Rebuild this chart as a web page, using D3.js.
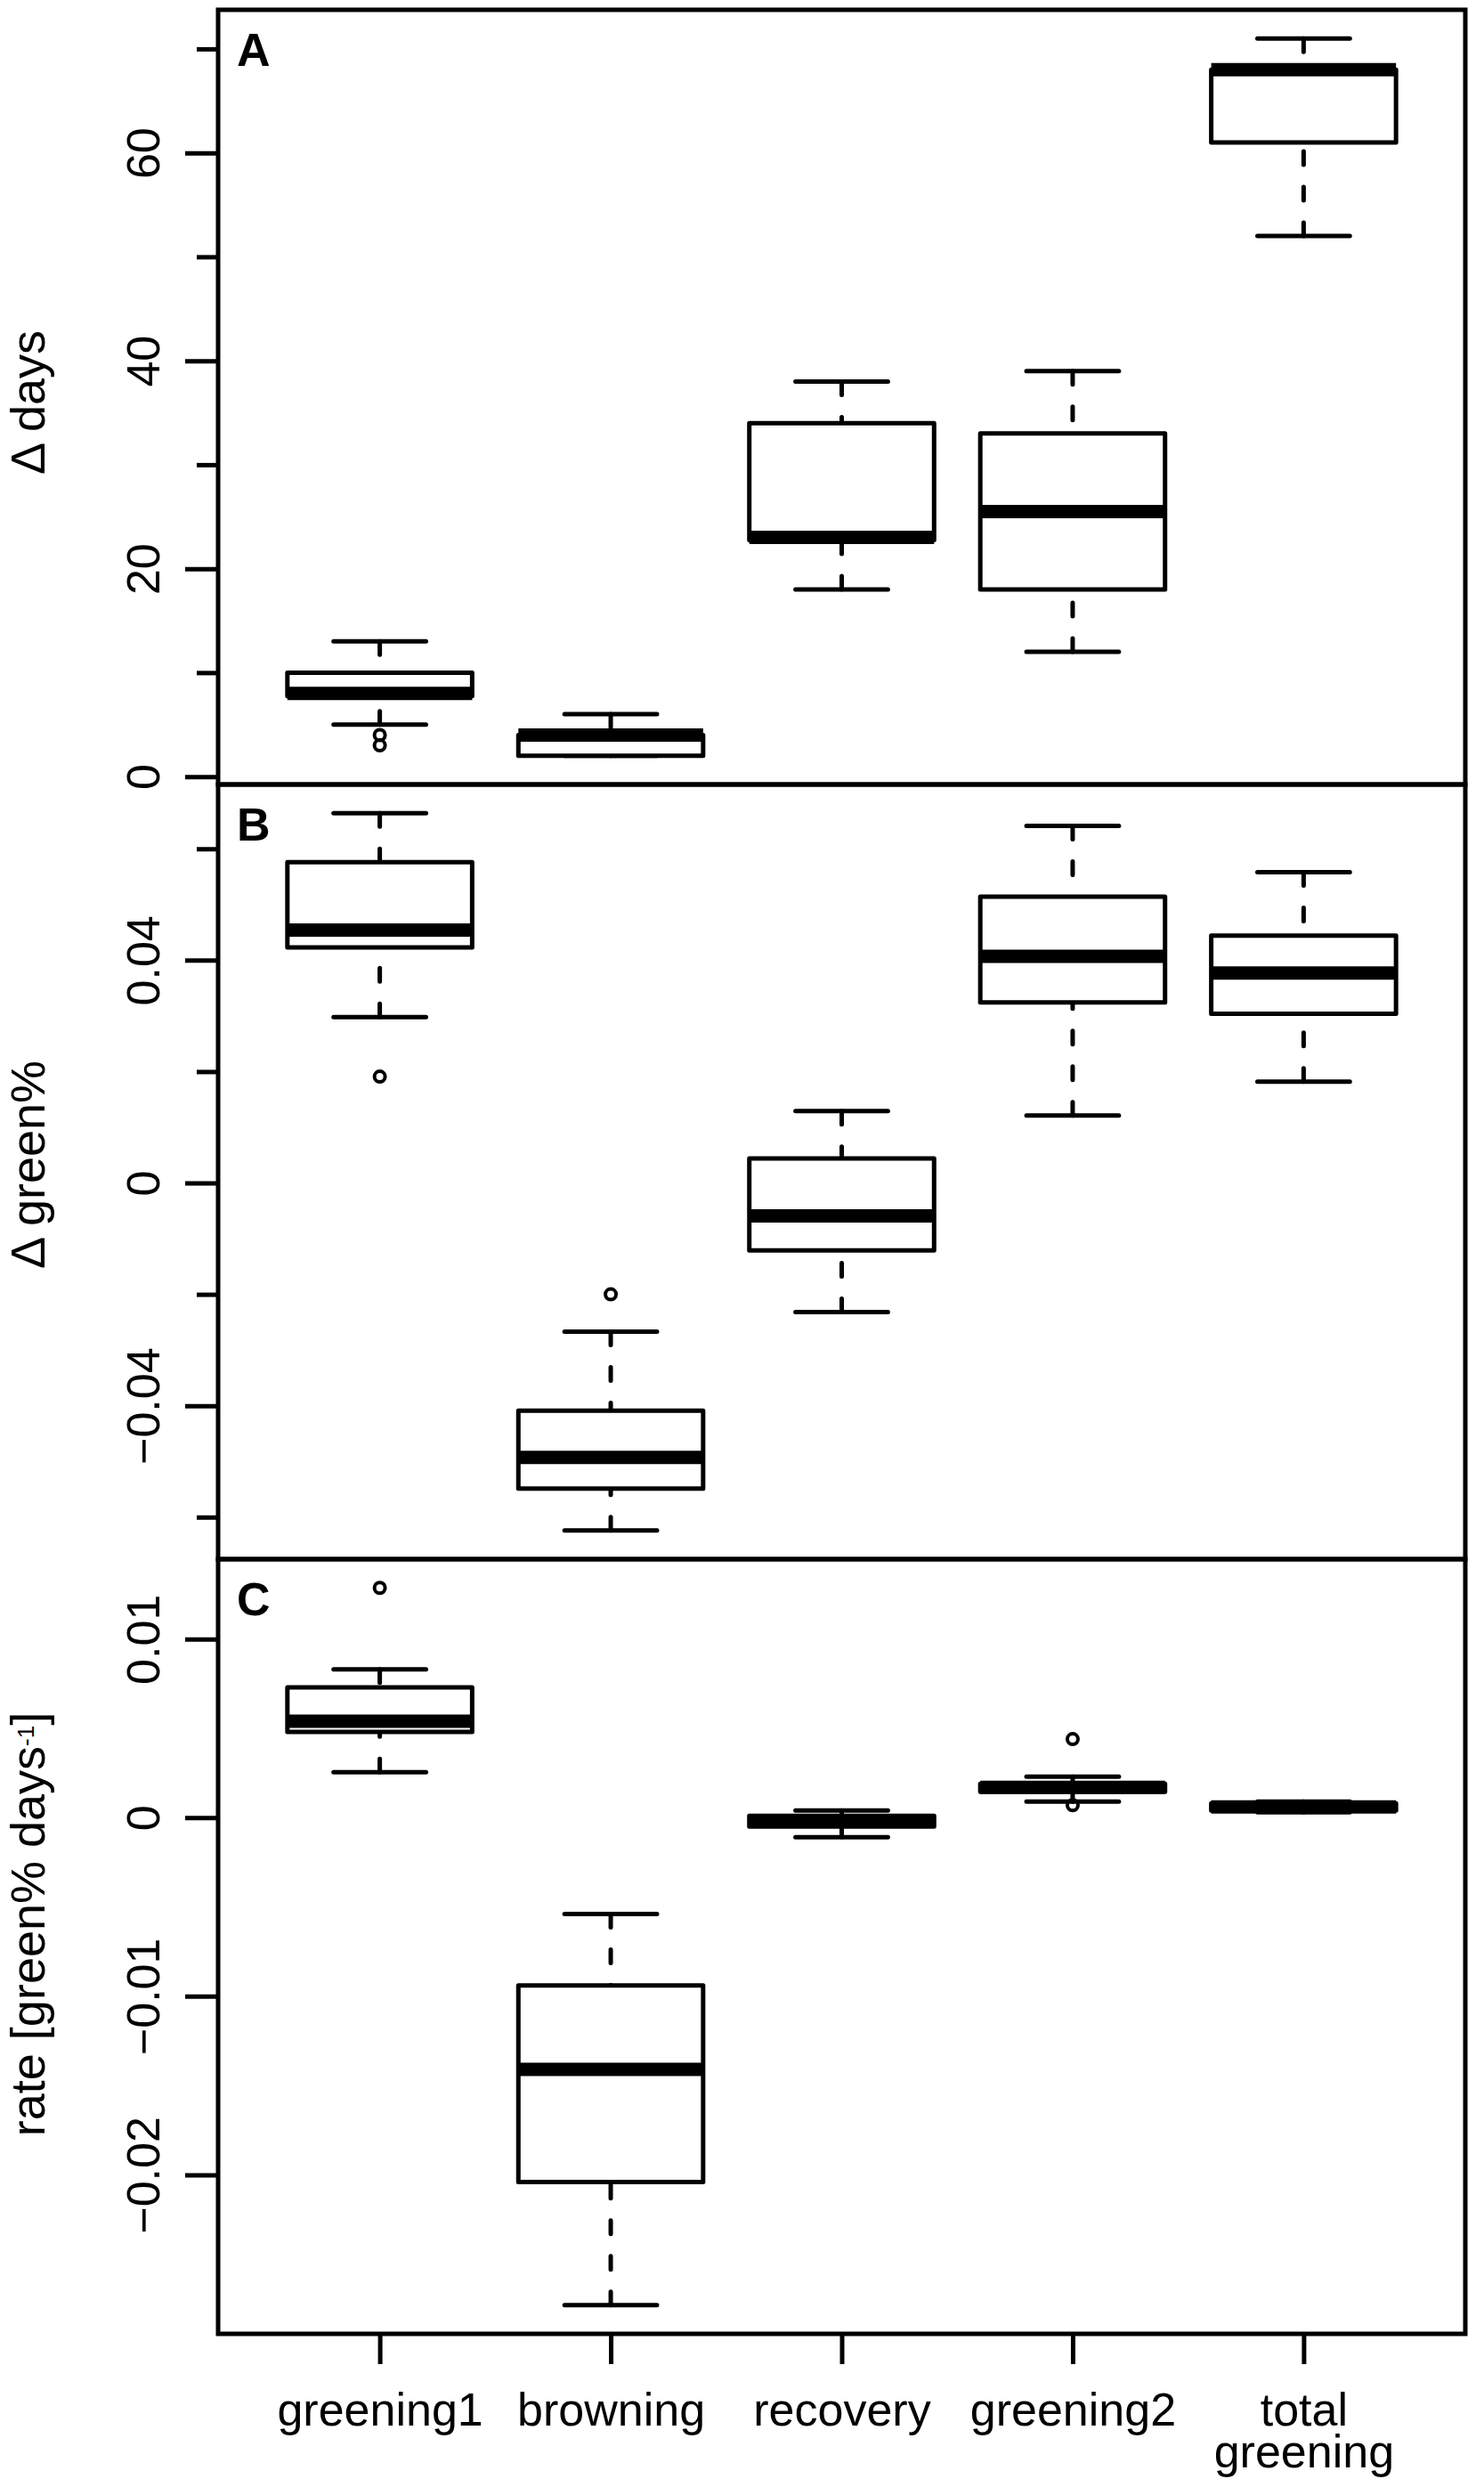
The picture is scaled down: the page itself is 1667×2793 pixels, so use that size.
<!DOCTYPE html>
<html>
<head>
<meta charset="utf-8">
<script src="https://cdn.jsdelivr.net/npm/d3@7"></script>
<style>
  body { margin: 0; background: #fff; }
  svg { display: block; font-family: 'Liberation Sans', Arial, Helvetica, sans-serif; }
</style>
</head>
<body>
<svg id="chart" width="1667" height="2793"></svg>
<script>
const categories = ['greening1', 'browning', 'recovery', 'greening2', 'total\ngreening'];

// [lower whisker, Q1, median, Q3, upper whisker] per category
const daysStats = [
    [5, 7.75, 8, 10, 13],
    [2, 2, 4, 4, 6],
    [18, 22.75, 23, 34, 38],
    [12, 18, 25.5, 33, 39],
    [52, 61, 68, 68, 71]
];
const daysOutliers = [[4, 3], [], [], [], []];

const greenStats = [
    [0.0298, 0.0423, 0.0454, 0.0576, 0.0664],
    [-0.0624, -0.0549, -0.0493, -0.0409, -0.0267],
    [-0.0232, -0.0121, -0.0059, 0.0044, 0.0129],
    [0.0121, 0.0324, 0.0407, 0.0514, 0.0641],
    [0.0182, 0.0304, 0.0377, 0.0444, 0.0558]
];
const greenOutliers = [[0.0191], [-0.0200], [], [], []];

const rateStats = [
    [0.00255, 0.0048, 0.0054, 0.0073, 0.0083],
    [-0.0273, -0.0204, -0.0141, -0.0094, -0.0054],
    [-0.0011, -0.0005, -0.0002, 0.0001, 0.0004],
    [0.0009, 0.00145, 0.0017, 0.0019, 0.0023],
    [0.0003, 0.0004, 0.0006, 0.0008, 0.0009]
];
const rateOutliers = [[0.01287], [], [], [0.0044, 0.0007], []];

const daysTicks = [0, 10, 20, 30, 40, 50, 60, 70];
const daysLabelTicks = [0, 20, 40, 60];
const greenTicks = [-0.06, -0.04, -0.02, 0, 0.02, 0.04, 0.06];
const greenLabelTicks = [-0.04, 0, 0.04];
const rateTicks = [-0.02, -0.01, 0, 0.01];
const rateLabelTicks = [-0.02, -0.01, 0, 0.01];

const panelLetters = ['A', 'B', 'C'];

// layout
const plotLeft = 245, plotRight = 1646, plotTop = 11, panelHeight = 870;
const fontSize = 52, titleSize = 54;
const titleCenters = [452, 1308, 2161];
const boxHalf = 0.4, stapleHalf = 0.2;
const lw = 5;

const svg = d3.select('#chart');
svg.append('rect').attr('width', 1667).attr('height', 2793).attr('fill', '#fff');

const x = d3.scaleLinear()
            .domain([0.3, categories.length + 0.7])
            .range([plotLeft, plotRight]);

const fmt = d => (d < 0 ? '\u2212' : '') + Math.abs(d);

const panels = [
    {stats: daysStats, outliers: daysOutliers, ticks: daysTicks, labelTicks: daysLabelTicks},
    {stats: greenStats, outliers: greenOutliers, ticks: greenTicks, labelTicks: greenLabelTicks},
    {stats: rateStats, outliers: rateOutliers, ticks: rateTicks, labelTicks: rateLabelTicks}
];

panels.forEach((p, i) => {
    let top = plotTop + i * panelHeight;
    let bottom = top + panelHeight;

    // R style range: data extent padded by 4%
    let values = p.stats.flat().concat(p.outliers.flat());
    let lo = d3.min(values), hi = d3.max(values);
    let pad = 0.04 * (hi - lo);
    let y = d3.scaleLinear()
              .domain([lo - pad, hi + pad])
              .range([bottom, top]);

    let g = svg.append('g').attr('class', 'panel');

    let box = g.selectAll('.box')
               .data(p.stats)
               .join('g')
               .attr('class', 'box')
               .attr('stroke', '#000')
               .attr('fill', 'none');

    // whiskers, drawn from the whisker end towards the box like R does
    [[0, 1], [4, 3]].forEach(([a, b]) => {
        box.append('line')
           .attr('x1', (d, j) => x(j + 1))
           .attr('x2', (d, j) => x(j + 1))
           .attr('y1', d => y(d[a]))
           .attr('y2', d => y(d[b]))
           .attr('stroke-width', lw)
           .attr('stroke-dasharray', '15 25')
           .attr('stroke-linecap', 'round');

        box.append('line')
           .attr('x1', (d, j) => x(j + 1 - stapleHalf))
           .attr('x2', (d, j) => x(j + 1 + stapleHalf))
           .attr('y1', d => y(d[a]))
           .attr('y2', d => y(d[a]))
           .attr('stroke-width', lw)
           .attr('stroke-linecap', 'round');
    });

    box.append('rect')
       .attr('x', (d, j) => x(j + 1 - boxHalf))
       .attr('width', (d, j) => x(j + 1 + boxHalf) - x(j + 1 - boxHalf))
       .attr('y', d => y(d[3]))
       .attr('height', d => y(d[1]) - y(d[3]))
       .attr('fill', '#fff')
       .attr('stroke-width', lw)
       .attr('stroke-linejoin', 'round');

    box.append('line')
       .attr('x1', (d, j) => x(j + 1 - boxHalf))
       .attr('x2', (d, j) => x(j + 1 + boxHalf))
       .attr('y1', d => y(d[2]))
       .attr('y2', d => y(d[2]))
       .attr('stroke-width', 3 * lw);

    let outs = p.outliers.flatMap((arr, j) => arr.map(v => ({j: j, v: v})));
    g.selectAll('.outlier')
     .data(outs)
     .join('circle')
     .attr('class', 'outlier')
     .attr('cx', d => x(d.j + 1))
     .attr('cy', d => y(d.v))
     .attr('r', 6)
     .attr('fill', 'none')
     .attr('stroke', '#000')
     .attr('stroke-width', 4);

    // frame
    g.append('rect')
     .attr('x', plotLeft)
     .attr('y', top)
     .attr('width', plotRight - plotLeft)
     .attr('height', panelHeight)
     .attr('fill', 'none')
     .attr('stroke', '#000')
     .attr('stroke-width', lw);

    // y axis: short unlabelled ticks and longer labelled ticks
    let minor = p.ticks.filter(t => !p.labelTicks.includes(t));
    let minorAxis = g.append('g')
                     .attr('transform', `translate(${plotLeft},0)`)
                     .call(d3.axisLeft(y).tickValues(minor).tickSize(24).tickFormat(''));
    let majorAxis = g.append('g')
                     .attr('transform', `translate(${plotLeft},0)`)
                     .call(d3.axisLeft(y).tickValues(p.labelTicks).tickSize(37).tickFormat(fmt));

    [minorAxis, majorAxis].forEach(ax => {
        ax.select('.domain').remove();
        ax.attr('font-size', fontSize).attr('font-family', null);
        ax.selectAll('line').attr('stroke-width', lw);
    });

    majorAxis.selectAll('text')
             .attr('transform', 'rotate(-90)')
             .attr('x', 0)
             .attr('y', -66)
             .attr('dy', null)
             .attr('text-anchor', 'middle')
             .attr('fill', '#000');

    g.append('text')
     .attr('x', 266)
     .attr('y', top + 63)
     .attr('font-size', fontSize)
     .attr('font-weight', 'bold')
     .text(panelLetters[i]);

    // axis title
    let title = g.append('text')
                 .attr('transform', `translate(50,${titleCenters[i]}) rotate(-90)`)
                 .attr('text-anchor', 'middle')
                 .attr('font-size', titleSize);
    if (i === 0) {
        title.text('\u0394 days');
    } else if (i === 1) {
        title.text('\u0394 green%');
    } else {
        title.append('tspan').text('rate [green% days');
        title.append('tspan').attr('font-size', 26).attr('dy', -12).text('-1');
        title.append('tspan').attr('dy', 12).text(']');
    }
});

// x axis under the last panel
let axisY = plotTop + 3 * panelHeight;
let xAxis = svg.append('g')
               .attr('transform', `translate(0,${axisY})`)
               .call(d3.axisBottom(x)
                       .tickValues(d3.range(1, categories.length + 1))
                       .tickSize(34)
                       .tickFormat(''));

xAxis.select('.domain').remove();
xAxis.attr('font-size', fontSize).attr('font-family', null);
xAxis.selectAll('line').attr('stroke-width', lw);

xAxis.selectAll('.tick')
     .append('text')
     .attr('fill', '#000')
     .attr('text-anchor', 'middle')
     .attr('y', 103)
     .selectAll('tspan')
     .data((d, j) => categories[j].split('\n'))
     .join('tspan')
     .attr('x', 0)
     .attr('dy', (d, k) => k === 0 ? 0 : 47)
     .text(d => d);
</script>
</body>
</html>
